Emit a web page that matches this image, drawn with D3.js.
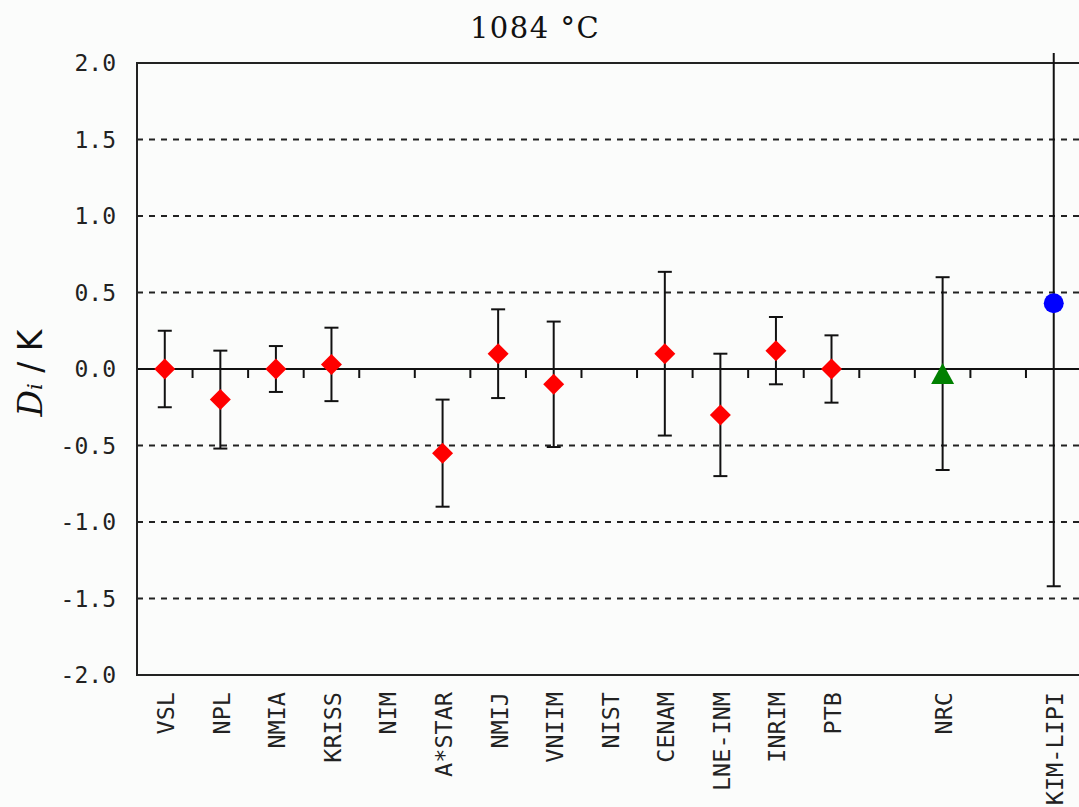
<!DOCTYPE html>
<html>
<head>
<meta charset="utf-8">
<script src="https://cdn.jsdelivr.net/npm/d3@7"></script>
<style>
  html, body { margin: 0; padding: 0; background: #fbfcfb; }
  svg { display: block; }
</style>
</head>
<body>
<div id="chart"></div>
<script>
// labs, slot on the x axis (gaps at 13 and 15), Di values and expanded uncertainties
var labs = ["VSL", "NPL", "NMIA", "KRISS", "NIM", "A*STAR", "NMIJ", "VNIIM", "NIST",
    "CENAM", "LNE-INM", "INRIM", "PTB", "NRC", "KIM-LIPI"]
var slots = [0, 1, 2, 3, 4, 5, 6, 7, 8, 9, 10, 11, 12, 14, 16]
var di = [0, -0.2, 0, 0.03, null, -0.55, 0.1, -0.1, null, 0.1, -0.3, 0.12, 0, -0.03, 0.43]
var uncert = [0.25, 0.32, 0.15, 0.24, null, 0.35, 0.29, 0.41, null, 0.535, 0.4, 0.22, 0.22, 0.63, 1.85]
var marker = ["diamond", "diamond", "diamond", "diamond", null, "diamond", "diamond", "diamond", null,
    "diamond", "diamond", "diamond", "diamond", "triangle", "circle"]
var yTicks = [2.0, 1.5, 1.0, 0.5, 0.0, -0.5, -1.0, -1.5, -2.0]
var gridVals = [1.5, 1.0, 0.5, -0.5, -1.0, -1.5]
var minorTicks = d3.range(0.5, 16, 1)

var W = 1079, H = 807
var plotL = 137, plotT = 63, plotB = 675

var x = d3.scaleLinear().domain([-0.5, 16.5]).range([plotL, plotL + 17 * 55.56])
var y = d3.scaleLinear().domain([-2, 2]).range([plotB, plotT])

var svg = d3.select("#chart").append("svg")
    .attr("width", W)
    .attr("height", H)

svg.append("rect").attr("width", W).attr("height", H).attr("fill", "#fbfcfb")

// title
svg.append("text")
    .attr("x", 535).attr("y", 38)
    .attr("text-anchor", "middle")
    .style("font-family", "DejaVu Serif")
    .style("font-size", "29px")
    .style("letter-spacing", "1.5px")
    .attr("fill", "#111")
    .text("1084 \u00B0C")

// dashed grid
svg.append("g").selectAll("line")
    .data(gridVals)
  .enter().append("line")
    .attr("x1", plotL).attr("x2", W)
    .attr("y1", function(d) { return y(d) }).attr("y2", function(d) { return y(d) })
    .attr("stroke", "#222")
    .attr("stroke-width", 2)
    .attr("stroke-dasharray", "6,6")

// zero line + its small ticks
svg.append("line")
    .attr("x1", plotL).attr("x2", W)
    .attr("y1", y(0)).attr("y2", y(0))
    .attr("stroke", "#111").attr("stroke-width", 2)
svg.append("g").selectAll("line")
    .data(minorTicks)
  .enter().append("line")
    .attr("x1", function(d) { return x(d) }).attr("x2", function(d) { return x(d) })
    .attr("y1", y(0)).attr("y2", y(0) + 9)
    .attr("stroke", "#111").attr("stroke-width", 2)

// frame (right side runs off the picture)
svg.append("path")
    .attr("d", "M" + W + "," + plotT + "H" + plotL + "V" + plotB + "H" + W)
    .attr("fill", "none")
    .attr("stroke", "#222")
    .attr("stroke-width", 2)

// y tick labels
svg.append("g").selectAll("text")
    .data(yTicks)
  .enter().append("text")
    .attr("x", 116)
    .attr("y", function(d) { return y(d) })
    .attr("dy", "0.36em")
    .attr("text-anchor", "end")
    .style("font-family", "DejaVu Sans Mono")
    .style("font-size", "23px")
    .attr("fill", "#222")
    .text(function(d) { return d3.format(".1f")(d).replace("\u2212", "-") })

// y axis title
var yt = svg.append("text")
    .attr("transform", "translate(42,373) rotate(-90)")
    .attr("text-anchor", "middle")
    .style("font-family", "DejaVu Sans")
    .style("font-size", "33px")
    .attr("fill", "#111")
yt.append("tspan").style("font-family", "DejaVu Serif").style("font-style", "italic").text("D")
yt.append("tspan").style("font-family", "DejaVu Serif").style("font-style", "italic").style("font-size", "21px").text("i")
yt.append("tspan").text(" / K")

// category labels
svg.append("g").selectAll("text")
    .data(labs)
  .enter().append("text")
    .attr("transform", function(d, i) { return "translate(" + (x(slots[i]) + 1) + ",692) rotate(-90)" })
    .attr("dy", "0.36em")
    .attr("text-anchor", "end")
    .style("font-family", "DejaVu Sans Mono")
    .style("font-size", "23.5px")
    .attr("fill", "#222")
    .text(function(d) { return d })

// error bars, clipped a little above the frame
svg.append("clipPath").attr("id", "clip")
  .append("rect").attr("x", plotL).attr("y", 53).attr("width", W - plotL).attr("height", plotB - 53)

var pts = labs.map(function(d, i) {
    return { lab: d, s: slots[i], v: di[i], u: uncert[i], m: marker[i] }
}).filter(function(d) { return d.v !== null })

var bars = svg.append("g").attr("clip-path", "url(#clip)")
    .selectAll("g").data(pts).enter().append("g")
bars.append("line")
    .attr("x1", function(d) { return x(d.s) }).attr("x2", function(d) { return x(d.s) })
    .attr("y1", function(d) { return y(d.v + d.u) }).attr("y2", function(d) { return y(d.v - d.u) })
    .attr("stroke", "#111").attr("stroke-width", 2)
bars.selectAll(".cap")
    .data(function(d) { return [d.v + d.u, d.v - d.u].map(function(e) { return { s: d.s, e: e } }) })
  .enter().append("line")
    .attr("class", "cap")
    .attr("x1", function(d) { return x(d.s) - 7 }).attr("x2", function(d) { return x(d.s) + 7 })
    .attr("y1", function(d) { return y(d.e) }).attr("y2", function(d) { return y(d.e) })
    .attr("stroke", "#111").attr("stroke-width", 2)

// markers
var shapes = {
    diamond: "M0,-10.5L10.5,0L0,10.5L-10.5,0Z",
    triangle: "M0,-10.5L11.5,10.5L-11.5,10.5Z"
}
var colors = { diamond: "#ff0000", triangle: "#008000", circle: "#0000ff" }
svg.append("g").selectAll(".mk")
    .data(pts)
  .enter().append("path")
    .attr("class", "mk")
    .attr("d", function(d) {
        return d.m === "circle" ? d3.symbol().type(d3.symbolCircle).size(Math.PI * 100)() : shapes[d.m]
    })
    .attr("transform", function(d) { return "translate(" + x(d.s) + "," + y(d.v) + ")" })
    .attr("fill", function(d) { return colors[d.m] })
</script>
</body>
</html>
